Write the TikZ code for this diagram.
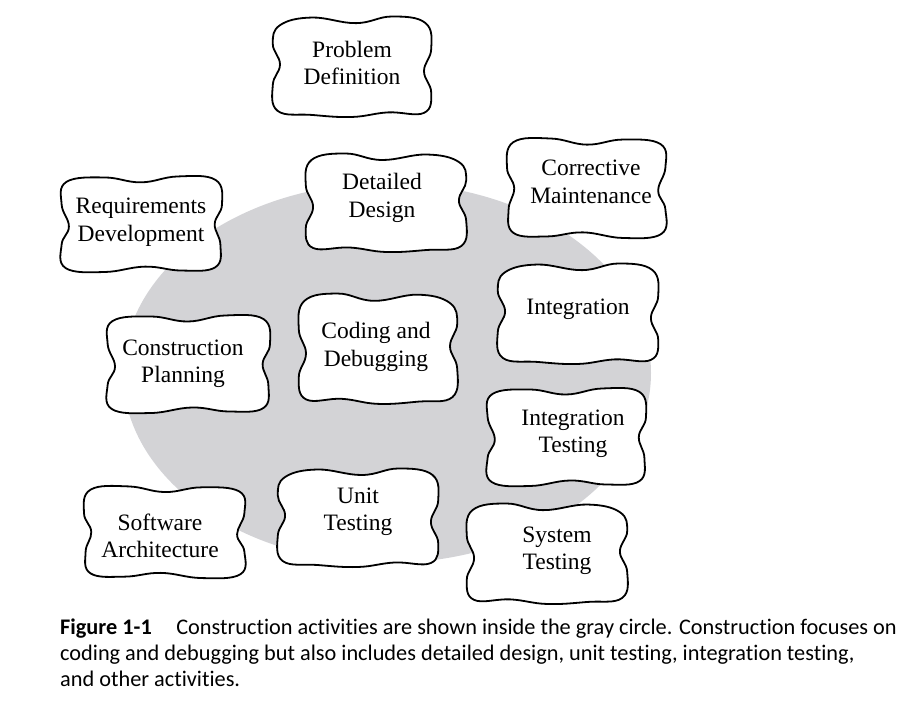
\documentclass[tikz,border=0pt]{standalone}
\usepackage{fontspec}
\setmainfont{Liberation Serif}
\newfontfamily\capfont[Ligatures=NoCommon]{Carlito}
\tikzset{
  cloudline/.style={draw=black, line width=1.8pt, fill=white, line join=round},
  cloudtext/.style={align=center, font=\fontsize{23.5}{27.5}\selectfont, inner sep=0pt, text=black},
  captext/.style={align=left, anchor=north west, inner sep=0pt, font=\capfont\fontsize{22.3}{26}\selectfont, text=black},
}
\definecolor{ovalgray}{RGB}{211,211,214}
\newcommand\cloudA[4]{%
  \begin{scope}[shift={(#1,#2)}, xscale=#3, yscale=#4]
    \path[cloudline] plot[smooth cycle, tension=0.7] coordinates {
      (-0.9,-0.82) (-0.5,-0.97) (0.05,-0.86) (0.5,-0.99)
      (0.92,-0.86) (0.99,-0.35) (0.9,0.08) (0.99,0.5)
      (0.9,0.9) (0.45,0.89) (0.0,0.98) (-0.5,0.94)
      (-0.93,0.86) (-0.99,0.35) (-0.9,-0.05) (-0.99,-0.45)};
  \end{scope}}
\newcommand\cloudB[4]{%
  \begin{scope}[shift={(#1,#2)}, xscale=#3, yscale=#4]
    \path[cloudline] plot[smooth cycle, tension=0.7] coordinates {
      (-0.92,-0.86) (-0.45,-0.95) (0.0,-0.85) (0.45,-0.97)
      (0.92,-0.9) (1.0,-0.4) (0.91,0.0) (0.98,0.42)
      (0.92,0.88) (0.5,0.95) (0.05,0.87) (-0.45,0.98)
      (-0.93,0.9) (-0.98,0.42) (-0.89,0.05) (-0.98,-0.4)};
  \end{scope}}
\begin{document}
\begin{tikzpicture}[x=1pt,y=-1pt]
\useasboundingbox (0,0) rectangle (916,708);
\fill[ovalgray] (387,373) ellipse [x radius=264, y radius=190];

\cloudA{352}{67}{80}{51}
\node[cloudtext] (pd) at (352,63) {Problem\\Definition};

\cloudB{141}{224}{81}{49}
\node[cloudtext] (rd) at (141,222) {Requirements\\Development};

\cloudA{386}{203}{-81}{50}
\node[cloudtext] (dd) at (382,198) {Detailed\\Design};

\cloudB{587}{188}{-80}{51}
\node[cloudtext] (cm) at (591,182) {Corrective\\Maintenance};

\cloudA{578}{314}{81}{51}
\node[cloudtext] (int) at (578,309) {Integration};

\cloudB{188}{364}{82}{50}
\node[cloudtext] (cp) at (183,364) {Construction\\Planning};

\cloudA{378}{349}{-80}{56}
\node[cloudtext] (cd) at (376,347) {Coding and\\Debugging};

\cloudB{566}{437}{80}{50}
\node[cloudtext] (it) at (573,434) {Integration\\Testing};

\cloudA{358}{518}{81}{50}
\node[cloudtext] (ut) at (358,512) {Unit\\Testing};

\cloudB{165}{532}{-81}{47}
\node[cloudtext] (sa) at (160,536) {Software\\Architecture};

\cloudA{547}{554}{-81}{51}
\node[cloudtext] (st) at (557,551) {System\\Testing};

\node[captext] (cap) at (60,619) {\textbf{Figure 1-1}\hspace{1.1em}Construction activities are shown inside the gray circle. Construction focuses on\\coding and debugging but also includes detailed design, unit testing, integration testing,\\and other activities.};
\end{tikzpicture}
\end{document}
